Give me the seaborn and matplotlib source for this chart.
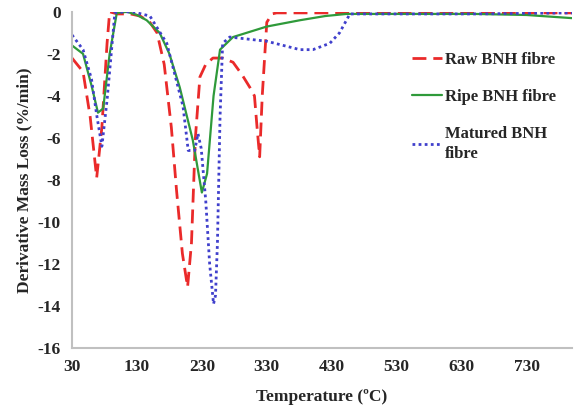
import numpy as np
import pandas as pd
import matplotlib
matplotlib.use("Agg")
import matplotlib.pyplot as plt
import seaborn as sns

# DTG curves (temperature in C, derivative mass loss in %/min)
raw_t = [30, 47, 58, 68, 76, 84, 88, 100, 120, 135, 150, 161, 172, 183, 191, 200, 208, 214, 220, 227, 236, 247, 262, 278, 292, 304, 311, 315, 319, 323, 330, 338, 345, 400, 500, 600, 700, 800]
raw_y = [-2.2, -2.85, -5.0, -7.9, -5.5, -1.5, 0.0, -0.1, -0.1, -0.2, -0.5, -1.0, -2.5, -5.5, -8.5, -11.5, -13.1, -11.0, -6.0, -3.1, -2.5, -2.2, -2.2, -2.4, -3.0, -3.6, -4.0, -5.5, -6.9, -4.0, -0.5, -0.1, -0.05, -0.05, -0.05, -0.05, -0.05, -0.05]

ripe_t = [30, 47, 60, 70, 78, 88, 99, 115, 130, 145, 165, 180, 196, 216, 230, 238, 248, 258, 278, 330, 381, 420, 453, 550, 650, 730, 800]
ripe_y = [-1.6, -2.0, -3.5, -4.8, -4.6, -2.0, -0.05, 0.0, -0.15, -0.4, -1.0, -2.0, -3.6, -6.1, -8.6, -7.7, -4.0, -1.8, -1.2, -0.7, -0.4, -0.2, -0.1, -0.1, -0.1, -0.15, -0.3]

mat_t = [30, 47, 60, 68, 76, 84, 96, 110, 124, 150, 176, 201, 209, 219, 224, 229, 236, 242, 248, 251, 254, 258, 262, 273, 330, 381, 401, 427, 442, 458, 550, 650, 800]
mat_y = [-1.1, -1.8, -3.2, -4.9, -6.4, -4.2, -0.05, 0.0, 0.0, -0.2, -1.5, -4.5, -6.6, -6.6, -5.8, -6.5, -9.0, -12.0, -13.9, -13.5, -11.0, -5.0, -1.5, -1.2, -1.4, -1.8, -1.8, -1.5, -1.0, -0.1, -0.1, -0.1, -0.05]

labels = ["Raw BNH fibre", "Ripe BNH fibre", "Matured BNH\nfibre"]
colors = ["#ea2a2a", "#2f9a3a", "#4040cc"]

sns.set_style("white")
plt.rcParams['font.family'] = ['Liberation Serif', 'DejaVu Serif']
plt.rcParams['font.weight'] = 'bold'
plt.rcParams['axes.unicode_minus'] = False

fig = plt.figure(figsize=(5.76, 4.08), dpi=100)
ax = fig.add_axes([0.125, 0.147, 0.868, 0.824])

sns.lineplot(x=raw_t, y=raw_y, ax=ax, color=colors[0], lw=2, label=labels[0])
sns.lineplot(x=ripe_t, y=ripe_y, ax=ax, color=colors[1], lw=1.6, label=labels[1])
sns.lineplot(x=mat_t, y=mat_y, ax=ax, color=colors[2], lw=2, label=labels[2])
ax.lines[0].set_dashes([5, 2.5])
ax.lines[2].set_linestyle((0, (1, 1.2)))

ax.set_xlim(30, 800)
ax.set_ylim(-16, 0)
ax.set_xticks(np.arange(30, 731, 100))
ax.set_yticks(np.arange(-16, 1, 2))
ax.tick_params(axis='both', labelsize=12.5, length=4, color='#c0c0c0', direction='out', pad=4)
for lab in ax.get_xticklabels() + ax.get_yticklabels():
    lab.set_fontweight('bold')
sns.despine(ax=ax)
for s in ['left', 'bottom']:
    ax.spines[s].set_color('#c0c0c0')
    ax.spines[s].set_linewidth(1.5)

ax.set_xlabel("Temperature (ºC)", fontsize=12.5, fontweight='bold', labelpad=10)
ax.set_ylabel("Derivative Mass Loss (%/min)", fontsize=12.5, fontweight='bold', labelpad=4)

leg = ax.legend(loc='upper left', bbox_to_anchor=(0.65, 0.925), frameon=False,
                handlelength=1.8, handletextpad=0.2, labelspacing=1.25,
                prop={'weight': 'bold', 'size': 12})
for t in leg.get_texts():
    t.set_linespacing(1.35)

fig.savefig("out.png", dpi=100)
